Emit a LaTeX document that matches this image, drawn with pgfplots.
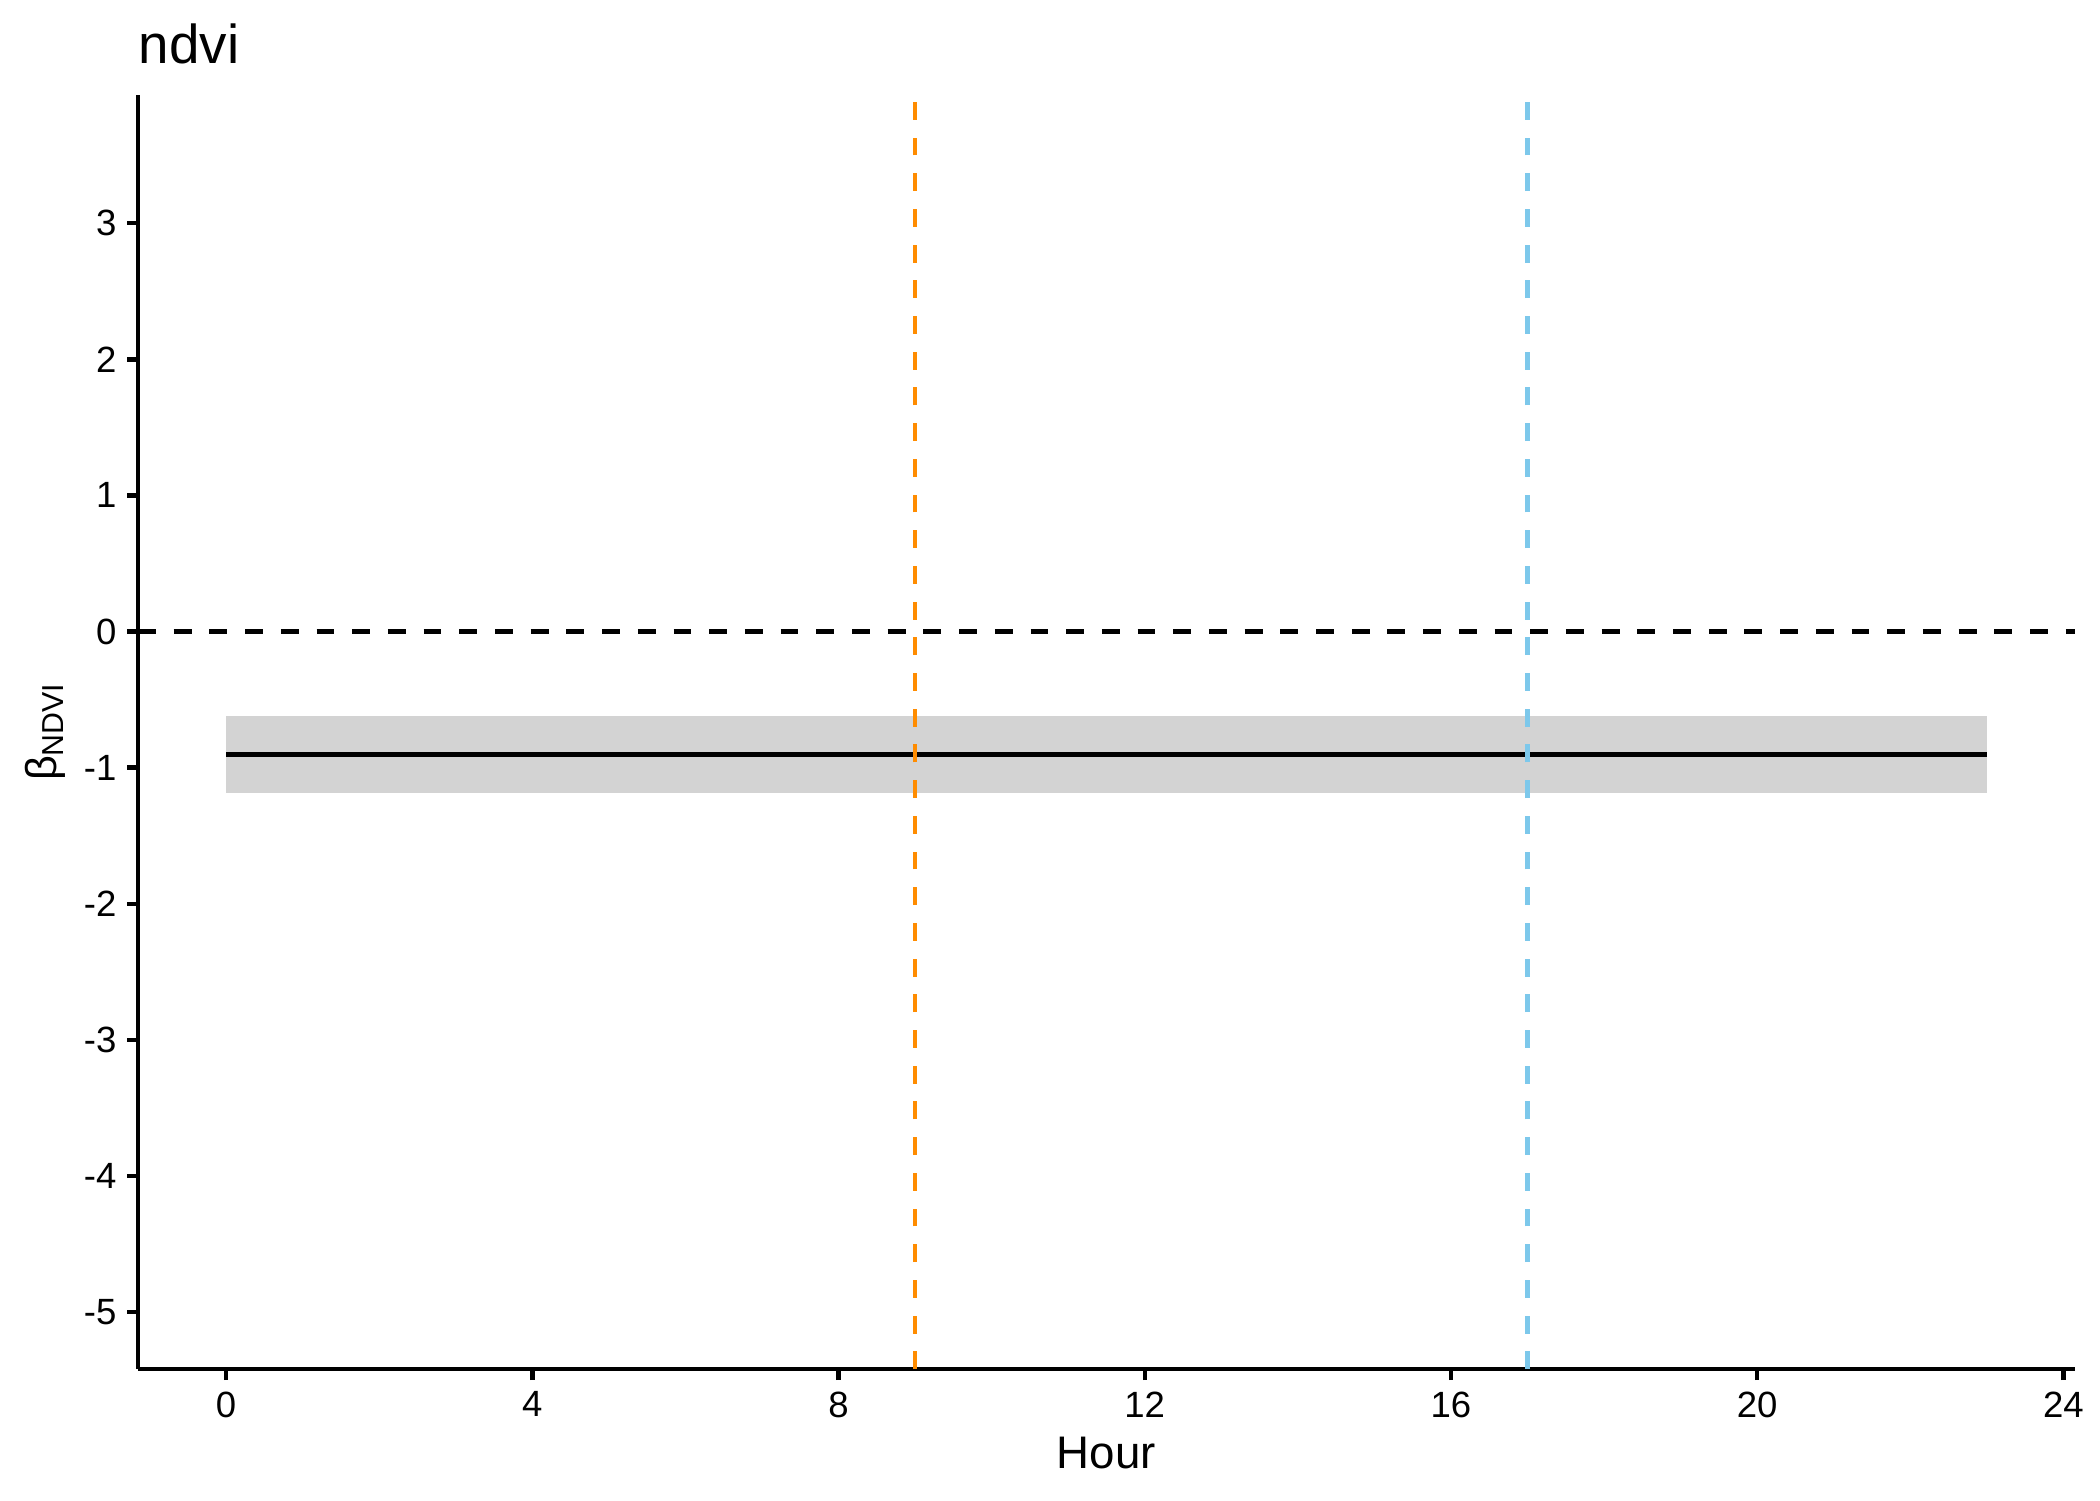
\documentclass[border=0pt]{standalone}
\usepackage{fontspec}
\setmainfont{Liberation Sans}
\usepackage{pgfplots}
\pgfplotsset{compat=1.18}
\definecolor{ribbongrey}{RGB}{211,211,211}
\definecolor{morning}{RGB}{255,140,0}
\definecolor{evening}{RGB}{125,200,235}

\begin{document}
\begin{tikzpicture}
\path[use as bounding box] (-33.25pt,-31.56pt) rectangle (472.65pt,329.85pt);
\begin{axis}[
    at={(0,0)}, anchor=south west,
    scale only axis,
    width=466.6pt, height=306.9pt,
    xmin=-1.15, xmax=24.15,
    ymin=-5.42, ymax=3.94,
    axis x line=bottom, axis y line=left,
    axis line style={-, line width=1.07pt, black},
    tick align=outside,
    major tick length=2.6pt,
    tick style={line width=1.07pt, black},
    xtick={0,4,8,12,16,20,24},
    xticklabels={0,4,8,12,16,20,24},
    ytick={-5,-4,-3,-2,-1,0,1,2,3},
    yticklabels={-5,-4,-3,-2,-1,0,1,2,3},
    tick label style={font=\fontsize{8.8}{10}\selectfont, inner sep=0pt},
    xticklabel style={yshift=-2.6pt},
    yticklabel style={xshift=-2.4pt},
    title={ndvi},
    title style={at={([yshift=1.7pt]axis description cs:0,1)}, anchor=base west,
        inner sep=0pt, font=\fontsize{13.2}{15}\selectfont},
    xlabel={Hour},
    xlabel style={at={([yshift=-23.85pt]axis description cs:0.5,0)}, anchor=base,
        inner sep=0pt, font=\fontsize{11}{13}\selectfont},
    ylabel={β\raisebox{-1.7pt}{\fontsize{7.3}{8}\selectfont NDVI}},
    ylabel style={at={([xshift=-19.75pt]axis description cs:0,0.5)}, anchor=base,
        rotate=0, inner sep=0pt, font=\fontsize{10.4}{12}\selectfont},
]
% confidence band
\addplot[draw=none, fill=ribbongrey] coordinates {
    (0,-0.623) (23,-0.623) (23,-1.189) (0,-1.189)
} -- cycle;
% estimate
\addplot[black, line width=1.07pt] coordinates {(0,-0.902) (23,-0.902)};
% zero line
\addplot[black, line width=1.07pt, dash pattern=on 4.3pt off 4.3pt]
    coordinates {(-1.15,0) (24.15,0)};
% sunrise / sunset
\addplot[morning, line width=1.07pt, dash pattern=on 4.3pt off 4.3pt]
    coordinates {(9,-5.42) (9,3.94)};
\addplot[evening, line width=1.07pt, dash pattern=on 4.3pt off 4.3pt]
    coordinates {(17,-5.42) (17,3.94)};
\end{axis}
\end{tikzpicture}
\end{document}
